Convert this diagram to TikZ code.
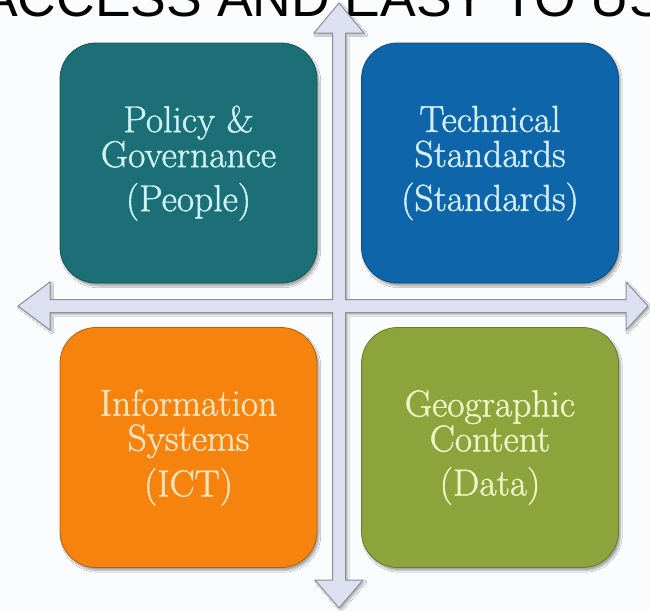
\documentclass[tikz,border=0pt]{standalone}
\usepackage{fontspec}
\newfontfamily\topfont{Liberation Sans}
\newfontfamily\boxfont{Latin Modern Roman}[FakeBold=1.2]
\usetikzlibrary{shadows.blur}
\definecolor{bgc}{HTML}{FBFCFE}
\definecolor{tealf}{HTML}{1C6E77}
\definecolor{tealb}{HTML}{14525A}
\definecolor{tealt}{HTML}{CCF2F2}
\definecolor{bluef}{HTML}{0F65A9}
\definecolor{blueb}{HTML}{0B4A7E}
\definecolor{bluet}{HTML}{D2EFFA}
\definecolor{orangef}{HTML}{F7830F}
\definecolor{orangeb}{HTML}{B0610E}
\definecolor{oranget}{HTML}{FDE4BE}
\definecolor{greenf}{HTML}{8DA33C}
\definecolor{greenb}{HTML}{687A2B}
\definecolor{greent}{HTML}{EEF4C6}
\definecolor{arrowf}{HTML}{DCE0F0}
\definecolor{arrowb}{HTML}{8C8E9C}
\tikzset{
  quadbox/.style={rounded corners=36pt, minimum width=257pt, minimum height=240pt,
    draw, line width=0.8pt, align=center, inner sep=0pt,
    font=\boxfont\fontsize{37.5}{35}\selectfont,
    blur shadow={shadow xshift=2pt, shadow yshift=-3pt, shadow blur steps=6, shadow opacity=35}},
  crossarrow/.style={fill=arrowf, draw=arrowb, line width=1pt, line join=miter,
    blur shadow={shadow xshift=2pt, shadow yshift=-2pt, shadow blur steps=5, shadow opacity=30}}
}
\begin{document}
\begin{tikzpicture}[x=1pt, y=-1pt]
\fill[bgc] (0,0) rectangle (650,611);
\useasboundingbox (0,0) rectangle (650,611);
\node[anchor=base west, inner sep=0pt, font=\topfont\fontsize{53.5}{53.5}\selectfont] (title) at (-18,16) {ACCESS AND EASY TO USE};
\path[crossarrow] (339,3) -- (364,33) -- (345.5,33) -- (345.5,299.5) -- (626,299.5) -- (626,282)
  -- (648,306) -- (626,330) -- (626,312.5) -- (345.5,312.5) -- (345.5,580) -- (363,580)
  -- (339,608) -- (315,580) -- (332.5,580) -- (332.5,312.5) -- (50,312.5) -- (50,330)
  -- (18,306) -- (50,282) -- (50,299.5) -- (332.5,299.5) -- (332.5,33) -- (314,33) -- cycle;
\node[quadbox, fill=tealf, draw=tealb, text=tealt] (people) at (188.5,163) {Policy \&\\Governance\\[9pt](People)};
\node[quadbox, fill=bluef, draw=blueb, text=bluet] (standards) at (490,163) {Technical\\Standards\\[9pt](Standards)};
\node[quadbox, fill=orangef, draw=orangeb, text=oranget] (ict) at (188.5,447.5) {Information\\Systems\\[9pt](ICT)};
\node[quadbox, fill=greenf, draw=greenb, text=greent] (data) at (490,447.5) {Geographic\\Content\\[9pt](Data)};
\end{tikzpicture}
\end{document}
